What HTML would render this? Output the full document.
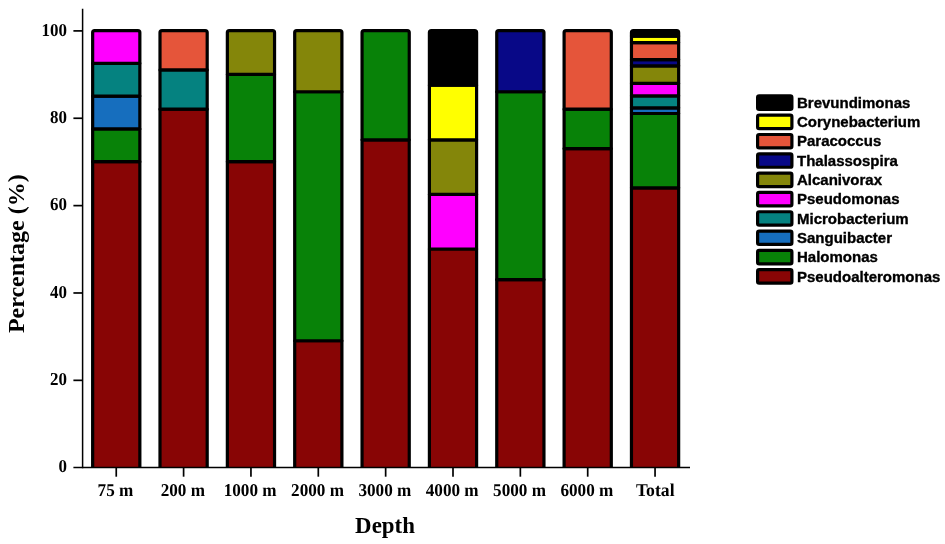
<!DOCTYPE html><html><head><meta charset="utf-8"><style>html,body{margin:0;padding:0;background:#fff;}svg{display:block;will-change:transform}</style></head><body>
<svg width="945" height="544" viewBox="0 0 945 544">
<rect width="945" height="544" fill="#fff"/>
<defs><clipPath id="cp"><rect x="0" y="0" width="945" height="467.00"/></clipPath></defs>
<g clip-path="url(#cp)" stroke="#000" stroke-width="3.20" stroke-linejoin="round">
<rect x="92.65" y="161.64" width="47.20" height="311.76" fill="#880505"/>
<rect x="92.65" y="128.88" width="47.20" height="32.76" fill="#088208"/>
<rect x="92.65" y="96.12" width="47.20" height="32.76" fill="#166ebe"/>
<rect x="92.65" y="63.36" width="47.20" height="32.76" fill="#058280"/>
<path d="M92.65,63.36V32.60Q92.65,30.60 94.65,30.60H137.85Q139.85,30.60 139.85,32.60V63.36Z" fill="#ff00ff"/>
<rect x="160.00" y="109.22" width="47.20" height="364.18" fill="#880505"/>
<rect x="160.00" y="69.91" width="47.20" height="39.31" fill="#058280"/>
<path d="M160.00,69.91V32.60Q160.00,30.60 162.00,30.60H205.20Q207.20,30.60 207.20,32.60V69.91Z" fill="#e5553a"/>
<rect x="227.35" y="161.64" width="47.20" height="311.76" fill="#880505"/>
<rect x="227.35" y="74.28" width="47.20" height="87.36" fill="#088208"/>
<path d="M227.35,74.28V32.60Q227.35,30.60 229.35,30.60H272.55Q274.55,30.60 274.55,32.60V74.28Z" fill="#84860a"/>
<rect x="294.70" y="340.73" width="47.20" height="132.67" fill="#880505"/>
<rect x="294.70" y="91.75" width="47.20" height="248.98" fill="#088208"/>
<path d="M294.70,91.75V32.60Q294.70,30.60 296.70,30.60H339.90Q341.90,30.60 341.90,32.60V91.75Z" fill="#84860a"/>
<rect x="362.05" y="139.80" width="47.20" height="333.60" fill="#880505"/>
<path d="M362.05,139.80V32.60Q362.05,30.60 364.05,30.60H407.25Q409.25,30.60 409.25,32.60V139.80Z" fill="#088208"/>
<rect x="429.40" y="249.00" width="47.20" height="224.40" fill="#880505"/>
<rect x="429.40" y="194.40" width="47.20" height="54.60" fill="#ff00ff"/>
<rect x="429.40" y="139.80" width="47.20" height="54.60" fill="#84860a"/>
<rect x="429.40" y="85.20" width="47.20" height="54.60" fill="#ffff00"/>
<path d="M429.40,85.20V32.60Q429.40,30.60 431.40,30.60H474.60Q476.60,30.60 476.60,32.60V85.20Z" fill="#000000"/>
<rect x="496.75" y="279.58" width="47.20" height="193.82" fill="#880505"/>
<rect x="496.75" y="91.75" width="47.20" height="187.82" fill="#088208"/>
<path d="M496.75,91.75V32.60Q496.75,30.60 498.75,30.60H541.95Q543.95,30.60 543.95,32.60V91.75Z" fill="#080887"/>
<rect x="564.10" y="148.54" width="47.20" height="324.86" fill="#880505"/>
<rect x="564.10" y="109.22" width="47.20" height="39.31" fill="#088208"/>
<path d="M564.10,109.22V32.60Q564.10,30.60 566.10,30.60H609.30Q611.30,30.60 611.30,32.60V109.22Z" fill="#e5553a"/>
<rect x="631.45" y="187.85" width="47.20" height="285.55" fill="#880505"/>
<rect x="631.45" y="113.50" width="47.20" height="74.34" fill="#088208"/>
<rect x="631.45" y="107.78" width="47.20" height="5.72" fill="#166ebe"/>
<rect x="631.45" y="95.81" width="47.20" height="11.97" fill="#058280"/>
<rect x="631.45" y="83.32" width="47.20" height="12.49" fill="#ff00ff"/>
<rect x="631.45" y="65.81" width="47.20" height="17.52" fill="#84860a"/>
<rect x="631.45" y="59.60" width="47.20" height="6.20" fill="#080887"/>
<rect x="631.45" y="42.61" width="47.20" height="16.99" fill="#e5553a"/>
<rect x="631.45" y="36.10" width="47.20" height="6.51" fill="#ffff00"/>
<path d="M631.45,36.10V32.60Q631.45,30.60 633.45,30.60H676.65Q678.65,30.60 678.65,32.60V36.10Z" fill="#000000"/>
</g>
<g stroke="#000" fill="none">
<line x1="82.6" y1="8.7" x2="82.6" y2="468.29999999999995" stroke-width="1.5"/>
<line x1="73.4" y1="467.5" x2="690" y2="467.5" stroke-width="1.7"/>
<line x1="73.4" y1="380.34" x2="82.6" y2="380.34" stroke-width="1.7"/>
<line x1="73.4" y1="292.98" x2="82.6" y2="292.98" stroke-width="1.7"/>
<line x1="73.4" y1="205.62" x2="82.6" y2="205.62" stroke-width="1.7"/>
<line x1="73.4" y1="118.26" x2="82.6" y2="118.26" stroke-width="1.7"/>
<line x1="73.4" y1="30.90" x2="82.6" y2="30.90" stroke-width="1.7"/>
<line x1="116.25" y1="467.4" x2="116.25" y2="476.7" stroke-width="1.7"/>
<line x1="183.60" y1="467.4" x2="183.60" y2="476.7" stroke-width="1.7"/>
<line x1="250.95" y1="467.4" x2="250.95" y2="476.7" stroke-width="1.7"/>
<line x1="318.30" y1="467.4" x2="318.30" y2="476.7" stroke-width="1.7"/>
<line x1="385.65" y1="467.4" x2="385.65" y2="476.7" stroke-width="1.7"/>
<line x1="453.00" y1="467.4" x2="453.00" y2="476.7" stroke-width="1.7"/>
<line x1="520.35" y1="467.4" x2="520.35" y2="476.7" stroke-width="1.7"/>
<line x1="587.70" y1="467.4" x2="587.70" y2="476.7" stroke-width="1.7"/>
<line x1="655.05" y1="467.4" x2="655.05" y2="476.7" stroke-width="1.7"/>
</g>
<g font-family="Liberation Serif" font-weight="bold" font-size="17.5" fill="#000" text-rendering="geometricPrecision">
<text transform="translate(66.9,472.40) scale(0.97,1.04)" text-anchor="end">0</text>
<text transform="translate(66.9,385.04) scale(0.97,1.04)" text-anchor="end">20</text>
<text transform="translate(66.9,297.68) scale(0.97,1.04)" text-anchor="end">40</text>
<text transform="translate(66.9,210.32) scale(0.97,1.04)" text-anchor="end">60</text>
<text transform="translate(66.9,122.96) scale(0.97,1.04)" text-anchor="end">80</text>
<text transform="translate(66.9,35.60) scale(0.97,1.04)" text-anchor="end">100</text>
<text transform="translate(115.45,496) scale(0.98,1.03)" text-anchor="middle">75 m</text>
<text transform="translate(182.80,496) scale(0.98,1.03)" text-anchor="middle">200 m</text>
<text transform="translate(250.15,496) scale(0.98,1.03)" text-anchor="middle">1000 m</text>
<text transform="translate(317.50,496) scale(0.98,1.03)" text-anchor="middle">2000 m</text>
<text transform="translate(384.85,496) scale(0.98,1.03)" text-anchor="middle">3000 m</text>
<text transform="translate(452.20,496) scale(0.98,1.03)" text-anchor="middle">4000 m</text>
<text transform="translate(519.55,496) scale(0.98,1.03)" text-anchor="middle">5000 m</text>
<text transform="translate(586.90,496) scale(0.98,1.03)" text-anchor="middle">6000 m</text>
<text transform="translate(655.25,496) scale(1.01,1.03)" text-anchor="middle">Total</text>
</g>
<text transform="translate(385,532.7) scale(0.975,1)" text-anchor="middle" font-family="Liberation Serif" font-weight="bold" font-size="23.5">Depth</text>
<text transform="translate(24.3,253.7) rotate(-90)" text-anchor="middle" font-family="Liberation Serif" font-weight="bold" font-size="24">Percentage (%)</text>
<g stroke="#000" stroke-width="3.2" stroke-linejoin="round">
<rect x="757.6" y="95.90" width="34.3" height="13.4" rx="1.6" fill="#000000"/>
<rect x="757.6" y="115.21" width="34.3" height="13.4" rx="1.6" fill="#ffff00"/>
<rect x="757.6" y="134.52" width="34.3" height="13.4" rx="1.6" fill="#e5553a"/>
<rect x="757.6" y="153.83" width="34.3" height="13.4" rx="1.6" fill="#080887"/>
<rect x="757.6" y="173.14" width="34.3" height="13.4" rx="1.6" fill="#84860a"/>
<rect x="757.6" y="192.45" width="34.3" height="13.4" rx="1.6" fill="#ff00ff"/>
<rect x="757.6" y="211.76" width="34.3" height="13.4" rx="1.6" fill="#058280"/>
<rect x="757.6" y="231.07" width="34.3" height="13.4" rx="1.6" fill="#166ebe"/>
<rect x="757.6" y="250.38" width="34.3" height="13.4" rx="1.6" fill="#088208"/>
<rect x="757.6" y="269.69" width="34.3" height="13.4" rx="1.6" fill="#880505"/>
</g>
<g font-family="Liberation Sans" font-weight="bold" font-size="15" fill="#000" stroke="#000" stroke-width="0.35">
<text x="797" y="107.80">Brevundimonas</text>
<text x="797" y="127.11">Corynebacterium</text>
<text x="797" y="146.42">Paracoccus</text>
<text x="797" y="165.73">Thalassospira</text>
<text x="797" y="185.04">Alcanivorax</text>
<text x="797" y="204.35">Pseudomonas</text>
<text x="797" y="223.66">Microbacterium</text>
<text x="797" y="242.97">Sanguibacter</text>
<text x="797" y="262.28">Halomonas</text>
<text x="797" y="281.59">Pseudoalteromonas</text>
</g>
</svg></body></html>
